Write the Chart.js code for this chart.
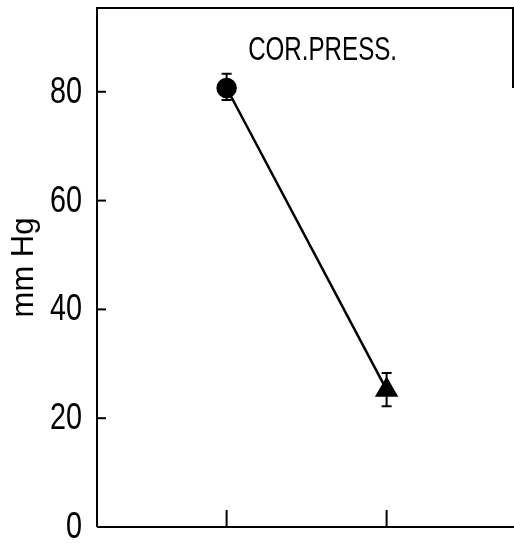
<!DOCTYPE html>
<html>
<head>
<meta charset="utf-8">
<script src="https://cdn.jsdelivr.net/npm/chart.js@4"></script>
<style>
  html, body { margin: 0; padding: 0; background: #fff; }
  #wrap { width: 514px; height: 543px; }
</style>
</head>
<body>
<div id="wrap"><canvas id="myChart"></canvas></div>
<script>
// data
var xPos = [1, 2];
var yValues = [80.7, 25.2];
var errUp = [2.6, 3.1];
var errDown = [2.2, 3.0];
var markers = ["circle", "triangle"];
var markerSize = [9, 11];
var yTicks = [0, 20, 40, 60, 80];
var title = "COR.PRESS.";
var yTitle = "mm Hg";

var FONT = "'Liberation Sans', Arial, sans-serif";

var points = [];
for (var i = 0; i < xPos.length; i++) {
  points.push({x: xPos[i], y: yValues[i]});
}

// squeezed text, the old figure uses a condensed face
function narrowText(ctx, txt, x, y, size, squeeze, align) {
  ctx.save();
  ctx.font = size + "px " + FONT;
  ctx.textAlign = align;
  ctx.translate(x, y);
  ctx.scale(squeeze, 1);
  ctx.fillText(txt, 0, 0);
  ctx.restore();
}

// box, inside ticks, tick labels, error bars and the title
var extras = {
  id: "extras",
  afterDatasetsDraw: function(chart) {
    var ctx = chart.ctx;
    var a = chart.chartArea;
    var xs = chart.scales.x;
    var ys = chart.scales.y;
    ctx.save();
    ctx.strokeStyle = "#000";
    ctx.fillStyle = "#000";
    ctx.lineWidth = 2;

    // frame
    ctx.beginPath();
    ctx.moveTo(a.left, a.bottom);
    ctx.lineTo(a.left, a.top);
    ctx.lineTo(a.right, a.top);
    ctx.lineTo(a.right, a.top + 80);
    ctx.moveTo(a.left, a.bottom);
    ctx.lineTo(a.right + 2, a.bottom);
    ctx.stroke();

    // y ticks pointing in, with labels
    ctx.textBaseline = "middle";
    yTicks.forEach(function(v) {
      var py = ys.getPixelForValue(v);
      ctx.beginPath();
      ctx.moveTo(a.left, py);
      ctx.lineTo(a.left + 9, py);
      ctx.stroke();
      narrowText(ctx, String(v), a.left - 15, py + 1, 36, 0.8, "right");
    });

    // x ticks pointing up
    xPos.forEach(function(v) {
      var px = xs.getPixelForValue(v);
      ctx.beginPath();
      ctx.moveTo(px, a.bottom);
      ctx.lineTo(px, a.bottom - 17);
      ctx.stroke();
    });

    // error bars
    for (var i = 0; i < xPos.length; i++) {
      var px = xs.getPixelForValue(xPos[i]);
      var top = ys.getPixelForValue(yValues[i] + errUp[i]);
      var bot = ys.getPixelForValue(yValues[i] - errDown[i]);
      ctx.beginPath();
      ctx.moveTo(px, top);
      ctx.lineTo(px, bot);
      ctx.moveTo(px - 5, top);
      ctx.lineTo(px + 5, top);
      ctx.moveTo(px - 5, bot);
      ctx.lineTo(px + 5, bot);
      ctx.stroke();
    }

    // title inside the plot
    ctx.textBaseline = "alphabetic";
    narrowText(ctx, title, xs.getPixelForValue(1.6), a.top + 52, 34, 0.71, "center");
    ctx.restore();
  }
};

var chart = new Chart("myChart", {
  type: "scatter",
  data: {
    datasets: [{
      data: points,
      showLine: true,
      borderColor: "#000",
      borderWidth: 2.5,
      backgroundColor: "#000",
      pointStyle: markers,
      pointRadius: markerSize,
      pointHoverRadius: markerSize
    }]
  },
  options: {
    responsive: true,
    maintainAspectRatio: false,
    animation: false,
    layout: { autoPadding: false, padding: { top: 8, right: 1, bottom: 16, left: 0 } },
    plugins: {
      legend: { display: false },
      tooltip: { enabled: false }
    },
    scales: {
      x: {
        type: "linear",
        min: 0.19,
        max: 2.79,
        display: true,
        border: { display: false },
        grid: { display: false, drawTicks: false },
        ticks: { display: false },
        afterFit: function(s) { s.height = 0; }
      },
      y: {
        min: 0,
        max: 95.4,
        border: { display: false },
        grid: { display: false, drawTicks: false },
        ticks: { display: false },
        title: {
          display: true,
          text: yTitle,
          color: "#000",
          padding: { top: 6, bottom: 0 },
          font: { family: FONT, size: 31 }
        },
        afterFit: function(s) { s.width = 97; }
      }
    }
  },
  plugins: [extras]
});
</script>
</body>
</html>
